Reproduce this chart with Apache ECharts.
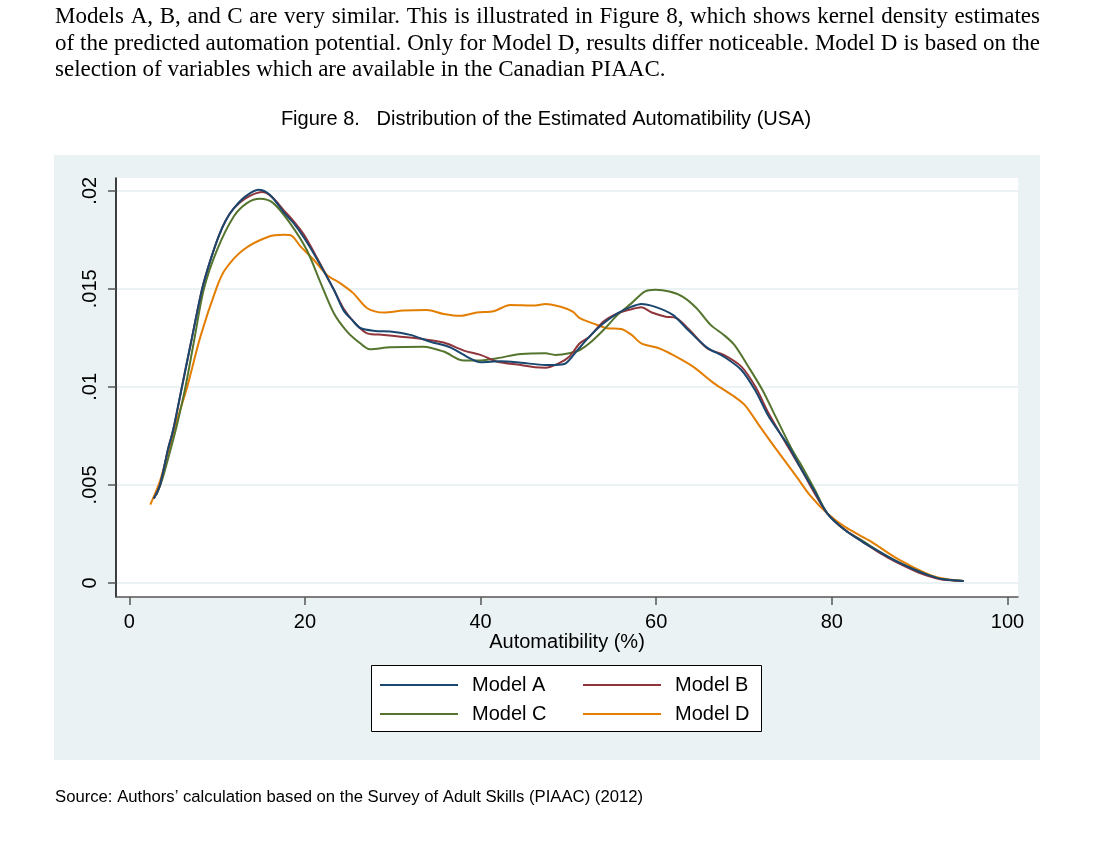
<!DOCTYPE html>
<html>
<head>
<meta charset="utf-8">
<script src="https://cdn.jsdelivr.net/npm/echarts@6/dist/echarts.min.js"></script>
<style>
html,body{margin:0;padding:0;background:#fff}
#chart{width:1100px;height:850px}
</style>
</head>
<body>
<div id="chart"></div>
<script>
// kernel density curves (x = automatibility %, y = density)
var aX = [2.8,3.5,4.4,5.0,6.0,7.0,8.3,9.2,10.2,11.0,11.9,13.2,14.7,16.0,17.6,18.8,19.9,21.4,23.3,24.4,25.4,26.3,28.0,29.7,32.0,34.3,36.6,38.8,40.0,42.3,44.6,47.4,48.5,49.7,50.9,52.4,54.0,55.6,57.2,58.3,59.9,61.9,63.4,65.8,67.7,69.7,71.3,72.8,74.0,75.2,76.4,78.0,79.5,81.5,83.5,85.4,87.4,89.3,91.0,92.5,95.0];
var aY = [0.0043,0.005,0.0068,0.0078,0.01,0.0122,0.015,0.0164,0.0177,0.0185,0.0191,0.0197,0.02005,0.0198,0.0189,0.0183,0.0176,0.0165,0.01495,0.0139,0.0134,0.0130,0.01285,0.01282,0.01265,0.0123,0.0120,0.01145,0.01125,0.0113,0.01123,0.01112,0.01112,0.0112,0.0118,0.01256,0.01324,0.01375,0.01409,0.01423,0.01408,0.01367,0.0130,0.0120,0.01154,0.01086,0.0098,0.0085,0.0077,0.0069,0.0059,0.0047,0.00354,0.0027,0.0021,0.0016,0.0011,0.0007,0.0004,0.0002,0.0001];

var bX = [2.8,3.5,4.4,5.0,6.0,7.0,8.3,9.2,10.2,11.0,11.9,13.2,15.1,16.2,17.6,18.8,19.9,21.4,23.3,24.4,25.6,27.1,29.0,30.9,33.5,35.8,38.1,40.0,41.9,44.6,46.2,47.4,48.9,50.1,51.3,52.4,54.0,55.6,57.2,58.3,59.5,61.1,62.3,63.8,65.8,67.7,69.7,71.3,72.8,74.8,76.4,78.0,79.5,81.5,83.5,85.4,87.4,89.3,91.0,92.5,95.0];
var bY = [0.0043,0.005,0.0068,0.0078,0.01,0.0122,0.015,0.0164,0.0177,0.0185,0.0191,0.0196,0.01993,0.0197,0.0190,0.0184,0.01775,0.01656,0.01495,0.0140,0.0133,0.01273,0.01265,0.01256,0.01243,0.01226,0.01185,0.01163,0.01128,0.01112,0.0110,0.01098,0.0112,0.01154,0.01222,0.01256,0.01333,0.01375,0.01396,0.01406,0.01379,0.01358,0.0135,0.0129,0.01197,0.01163,0.01103,0.0100,0.00865,0.0071,0.0059,0.0046,0.00354,0.0027,0.0021,0.00155,0.00105,0.00065,0.00035,0.00018,0.0001];

var cX = [3.1,3.7,4.7,5.4,6.4,7.4,8.5,10.0,11.9,13.4,14.9,16.4,18.3,20.2,21.8,23.3,24.8,26.3,27.4,29.7,33.5,35.8,38.1,39.6,41.9,44.6,47.4,48.5,50.1,51.3,52.4,54.0,55.6,57.2,58.7,59.9,61.5,63.0,64.6,66.2,67.7,68.9,70.5,72.1,73.6,75.4,76.4,78.0,79.5,81.5,83.5,85.4,87.4,89.3,91.0,92.5,95.0];
var cY = [0.0045,0.0052,0.0068,0.0080,0.01,0.0124,0.015,0.01699,0.01869,0.01937,0.01959,0.01937,0.01835,0.01699,0.01529,0.01375,0.01282,0.01222,0.01192,0.01202,0.01205,0.0118,0.01134,0.01134,0.01146,0.01168,0.01171,0.01163,0.01171,0.01188,0.01222,0.0129,0.01367,0.01427,0.01486,0.01495,0.01486,0.0146,0.01401,0.01316,0.01265,0.01214,0.01103,0.00984,0.00848,0.00686,0.0061,0.0048,0.00354,0.0027,0.00215,0.0016,0.0011,0.0007,0.0004,0.0002,0.0001];

var dX = [2.4,3.5,4.5,5.5,6.6,8.1,9.9,10.9,13.0,15.7,17.6,18.5,19.5,21.0,22.5,24.0,25.5,27.1,29.0,31.2,33.9,35.8,37.7,39.6,41.5,43.4,46.2,47.4,49.3,50.5,51.3,52.8,54.4,56.0,57.2,58.3,60.3,61.9,64.2,66.6,68.9,70.1,71.7,73.6,76.0,77.5,79.5,81.5,84.2,87.4,89.3,91.3,93.0,95.0];
var dY = [0.004,0.0052,0.0068,0.0084,0.01,0.01256,0.015,0.01597,0.01699,0.01763,0.01775,0.0177,0.01716,0.01648,0.01571,0.01529,0.01478,0.01401,0.01379,0.01389,0.01392,0.01372,0.01362,0.01379,0.01386,0.01418,0.01415,0.01423,0.01406,0.01384,0.0135,0.01324,0.01299,0.01295,0.01265,0.01222,0.01197,0.01163,0.01103,0.01018,0.0095,0.00907,0.00805,0.00686,0.00541,0.00448,0.00354,0.00286,0.00218,0.00125,0.0008,0.00039,0.0002,0.0001];

var xTicks = [0,20,40,60,80,100];
var yTicks = [0,0.005,0.01,0.015,0.02];
var names = ['Model A','Model B','Model C','Model D'];
var colors = ['#1a476f','#90353b','#55752f','#e37e00'];

var paraLines = [
  'Models A, B, and C are very similar. This is illustrated in Figure 8, which shows kernel density estimates',
  'of the predicted automation potential. Only for Model D, results differ noticeable. Model D is based on the',
  'selection of variables which are available in the Canadian PIAAC.'
];

function pairs(xs, ys) {
  return xs.map(function (x, i) { return [x, ys[i]]; });
}

// lay out a justified text line word by word
var ctx = document.createElement('canvas').getContext('2d');
var paraFont = '23px "Liberation Serif"';
function textLine(text, x0, x1, y, stretch) {
  if (!stretch) {
    return [{type:'text', x:x0, y:y, style:{text:text, font:paraFont, fill:'#000', verticalAlign:'middle'}}];
  }
  ctx.font = paraFont;
  var words = text.split(' ');
  var w = words.map(function (s) { return ctx.measureText(s).width; });
  var total = w.reduce(function (a, b) { return a + b; }, 0);
  var gap = (x1 - x0 - total) / (words.length - 1);
  var out = [], x = x0;
  words.forEach(function (s, i) {
    out.push({type:'text', x:x, y:y, style:{text:s, font:paraFont, fill:'#000', verticalAlign:'middle'}});
    x += w[i] + gap;
  });
  return out;
}

var graphics = [
  {type:'rect', z:-10, shape:{x:54, y:155, width:986, height:605}, style:{fill:'#eaf2f3'}},
  {type:'rect', z:1, shape:{x:371.5, y:665.5, width:390, height:66}, style:{fill:'#fff', stroke:'#000', lineWidth:1}},
  {type:'text', x:546, y:119, style:{text:'Figure 8.   Distribution of the Estimated Automatibility (USA)', font:'20px "Liberation Sans"', fill:'#000', align:'center', verticalAlign:'middle'}},
  {type:'text', x:55, y:797, style:{text:'Source: Authors\u2019 calculation based on the Survey of Adult Skills (PIAAC) (2012)', font:'16.7px "Liberation Sans"', fill:'#000', verticalAlign:'middle'}}
];
paraLines.forEach(function (t, i) {
  graphics = graphics.concat(textLine(t, 55, 1040, 17.2 + i * 26.6, i < 2));
});

var chart = echarts.init(document.getElementById('chart'));
var series = [[aX,aY],[bX,bY],[cX,cY],[dX,dY]].map(function (d, i) {
  return {
    name: names[i],
    type: 'line',
    data: pairs(d[0], d[1]),
    symbol: 'none',
    smooth: 0.3,
    color: colors[i],
    lineStyle: {width: 2, color: colors[i]},
    z: 10 - i
  };
});

var legendText = {fontFamily:'Liberation Sans', fontSize:20, color:'#000', padding:[0,0,0,9]};
var legendBase = {orient:'vertical', top:675, icon:'rect', itemWidth:78, itemHeight:2, itemGap:9, padding:0, textStyle:legendText};
chart.setOption({
  animation: false,
  backgroundColor: '#fff',
  textStyle: {fontFamily: 'Liberation Sans'},
  graphic: graphics,
  grid: {left:116, right:82, top:178, bottom:253, show:true, backgroundColor:'#fff', borderWidth:0},
  legend: [
    echarts.util.extend({data:['Model A','Model C'], left:380}, legendBase),
    echarts.util.extend({data:['Model B','Model D'], left:583}, legendBase)
  ],
  xAxis: {
    type: 'value',
    min: -1.51,
    max: 101.2,
    name: 'Automatibility (%)',
    nameLocation: 'middle',
    nameGap: 33,
    nameTextStyle: {fontSize:20, color:'#000', fontFamily:'Liberation Sans'},
    axisLine: {show:true, onZero:false, lineStyle:{color:'#555', width:1.5}},
    axisTick: {show:true, length:8, customValues:xTicks, lineStyle:{color:'#555', width:1.5}},
    axisLabel: {customValues:xTicks, fontSize:20, color:'#000', margin:15},
    splitLine: {show:false}
  },
  yAxis: {
    type: 'value',
    min: -0.000715,
    max: 0.02065,
    axisLine: {show:true, onZero:false, lineStyle:{color:'#000', width:1.5}},
    axisTick: {show:true, length:8, customValues:yTicks, lineStyle:{color:'#555', width:1.5}},
    axisLabel: {
      customValues: yTicks, fontSize:20, color:'#000', margin:16, rotate:90,
      formatter: function (v) { return v === 0 ? '0' : String(v).replace(/^0/, ''); }
    },
    splitLine: {show:true, lineStyle:{color:'#eaf2f3', width:2}}
  },
  series: series
});
</script>
</body>
</html>
